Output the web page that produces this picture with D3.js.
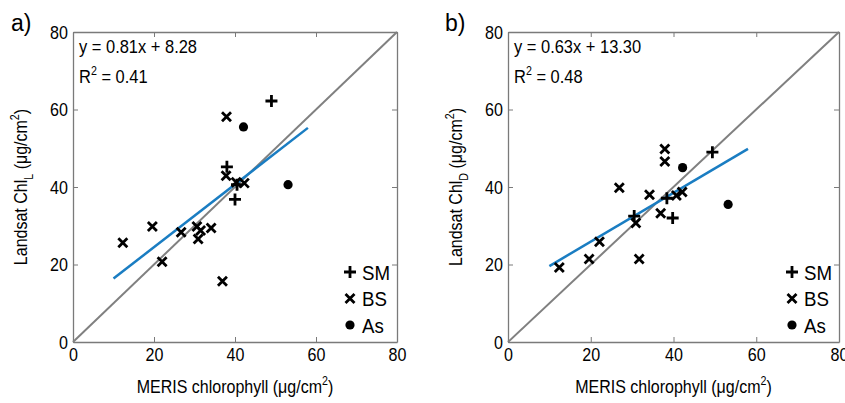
<!DOCTYPE html>
<html><head><meta charset="utf-8">
<script src="https://cdn.jsdelivr.net/npm/d3@7"></script>
<style>
html,body{margin:0;padding:0;background:#fff;}
svg text{font-family:"Liberation Sans",Arial,sans-serif;fill:#000;}
</style></head>
<body><svg id="chart" width="845" height="403"></svg>
<script>
// ---- data ----
const tickValues = [0, 20, 40, 60, 80];
const panelLabels = ["a)", "b)"];
const ySubscripts = ["L", "D"];
const equations = ["y = 0.81x + 8.28", "y = 0.63x + 13.30"];
const r2Values = ["0.41", "0.48"];
const fitSlopes = [0.81, 0.63];
const fitIntercepts = [8.28, 13.30];
const fitRange = [10, 58];
const legendNames = ["SM", "BS", "As"];

const aSMx = [49.0, 38.0, 40.0, 40.5];
const aSMy = [62.2, 45.2, 36.8, 40.6];
const aBSx = [37.9, 37.8, 40.3, 42.3, 12.3, 19.6, 22.0, 26.7, 30.6, 31.5, 30.9, 34.1, 36.9];
const aBSy = [58.1, 42.9, 41.2, 41.0, 25.6, 29.8, 20.7, 28.3, 29.8, 28.8, 26.6, 29.4, 15.7];
const aAsx = [42.1, 53.1];
const aAsy = [55.5, 40.6];

const bSMx = [49.4, 38.4, 39.8, 30.5];
const bSMy = [49.0, 37.1, 32.0, 32.5];
const bBSx = [37.9, 37.9, 26.9, 34.2, 40.7, 42.1, 36.9, 30.9, 22.1, 19.6, 31.7, 12.4];
const bBSy = [49.8, 46.6, 39.8, 38.0, 37.8, 38.7, 33.2, 30.7, 25.9, 21.4, 21.4, 19.2];
const bAsx = [42.2, 53.2];
const bAsy = [45.0, 35.5];

const panels = [
  {SMx: aSMx, SMy: aSMy, BSx: aBSx, BSy: aBSy, Asx: aAsx, Asy: aAsy},
  {SMx: bSMx, SMy: bSMy, BSx: bBSx, BSy: bBSy, Asx: bAsx, Asy: bAsy}
];

// ---- layout ----
const layout = [
  {left: 73, right: 397, top: 32, bottom: 342, labelX: 11, ylabX: 27},
  {left: 508, right: 839, top: 32, bottom: 342, labelX: 445, ylabX: 462}
];

const svg = d3.select("#chart");
const axisColor = "#7a7a7a";
const SX = 0.89; // horizontal condensing of text (narrow Helvetica look)

function plusPath(x, y, s) { return `M${x - s},${y}H${x + s}M${x},${y - s}V${y + s}`; }
function crossPath(x, y, s) { return `M${x - s},${y - s}L${x + s},${y + s}M${x - s},${y + s}L${x + s},${y - s}`; }
function condText(parent, x, y, size, extra) {
  return parent.append("g").attr("transform", `translate(${x},${y})${extra || ""} scale(${SX},1)`)
    .append("text").attr("font-size", size);
}

panels.forEach((p, i) => {
  const L = layout[i];
  const x = d3.scaleLinear().domain([0, 80]).range([L.left, L.right]);
  const y = d3.scaleLinear().domain([0, 80]).range([L.bottom, L.top]);
  const g = svg.append("g");

  const styleAxis = sel => {
    sel.select(".domain").attr("stroke", axisColor).attr("stroke-width", 1.3);
    sel.selectAll(".tick line").attr("stroke", axisColor).attr("stroke-width", 1);
    sel.selectAll(".tick text").attr("font-size", 17.5).attr("font-family", "Liberation Sans, Arial, sans-serif")
      .attr("fill", "#000").attr("transform", `scale(0.92,1)`);
  };
  g.append("g").attr("transform", `translate(0,${L.bottom})`)
    .call(d3.axisBottom(x).tickValues(tickValues).tickSizeInner(-5).tickSizeOuter(0).tickPadding(7))
    .call(styleAxis);
  g.append("g").attr("transform", `translate(${L.left},0)`)
    .call(d3.axisLeft(y).tickValues(tickValues).tickSizeInner(-5).tickSizeOuter(0).tickPadding(5))
    .call(styleAxis)
    .selectAll(".tick text").attr("dy", "0.36em").attr("x", -5 / 0.92);
  g.append("g").attr("transform", `translate(0,${L.top})`)
    .call(d3.axisTop(x).tickValues(tickValues).tickSizeInner(-5).tickSizeOuter(0).tickFormat(""))
    .call(styleAxis);
  g.append("g").attr("transform", `translate(${L.right},0)`)
    .call(d3.axisRight(y).tickValues(tickValues).tickSizeInner(-5).tickSizeOuter(0).tickFormat(""))
    .call(styleAxis);

  // 1:1 line
  g.append("line")
    .attr("x1", x(0)).attr("y1", y(0)).attr("x2", x(80)).attr("y2", y(80))
    .attr("stroke", "#808080").attr("stroke-width", 2);

  // fit line
  g.append("line")
    .attr("x1", x(fitRange[0])).attr("y1", y(fitSlopes[i] * fitRange[0] + fitIntercepts[i]))
    .attr("x2", x(fitRange[1])).attr("y2", y(fitSlopes[i] * fitRange[1] + fitIntercepts[i]))
    .attr("stroke", "#1a7dc2").attr("stroke-width", 2.5);

  // markers
  const sm = p.SMx.map((v, k) => [v, p.SMy[k]]);
  const bs = p.BSx.map((v, k) => [v, p.BSy[k]]);
  const as = p.Asx.map((v, k) => [v, p.Asy[k]]);
  g.selectAll(".bs").data(bs).join("path").attr("class", "bs")
    .attr("d", d => crossPath(x(d[0]), y(d[1]), 4.5)).attr("stroke", "#000").attr("stroke-width", 2.8).attr("fill", "none");
  g.selectAll(".sm").data(sm).join("path").attr("class", "sm")
    .attr("d", d => plusPath(x(d[0]), y(d[1]), 6)).attr("stroke", "#000").attr("stroke-width", 2.8).attr("fill", "none");
  g.selectAll(".as").data(as).join("circle").attr("class", "as")
    .attr("cx", d => x(d[0])).attr("cy", d => y(d[1])).attr("r", 4.6).attr("fill", "#000");

  // equation and R2
  condText(g, L.left + 6, 53, 18.5).text(equations[i]);
  const r = condText(g, L.left + 6, 83, 18.5);
  r.append("tspan").text("R");
  r.append("tspan").attr("font-size", 12).attr("dy", -8).text("2");
  r.append("tspan").attr("dy", 8).text(" = " + r2Values[i]);

  // legend
  const lx = L.right - 47, ly0 = 272, dy = 26.5;
  legendNames.forEach((name, k) => {
    const yy = ly0 + k * dy;
    if (k === 0) g.append("path").attr("d", plusPath(lx, yy, 6)).attr("stroke", "#000").attr("stroke-width", 2.8);
    if (k === 1) g.append("path").attr("d", crossPath(lx, yy, 4.5)).attr("stroke", "#000").attr("stroke-width", 2.8);
    if (k === 2) g.append("circle").attr("cx", lx).attr("cy", yy).attr("r", 4.6).attr("fill", "#000");
    condText(g, lx + 12, yy + 7.5, 21).text(name);
  });

  // panel label
  g.append("text").attr("x", L.labelX).attr("y", 31).attr("font-size", 23).text(panelLabels[i]);

  // x label
  const xl = condText(g, (L.left + L.right) / 2, 393, 18).attr("text-anchor", "middle");
  xl.append("tspan").text("MERIS chlorophyll (\u03bcg/cm");
  xl.append("tspan").attr("font-size", 12).attr("dy", -8).text("2");
  xl.append("tspan").attr("dy", 8).text(")");

  // y label
  const yl = condText(g, L.ylabX, (L.top + L.bottom) / 2, 18, " rotate(-90)").attr("text-anchor", "middle");
  yl.append("tspan").text("Landsat Chl");
  yl.append("tspan").attr("font-size", 12).attr("dy", 6).text(ySubscripts[i]);
  yl.append("tspan").attr("dy", -6).text("  (\u03bcg/cm");
  yl.append("tspan").attr("font-size", 12).attr("dy", -8).text("2");
  yl.append("tspan").attr("dy", 8).text(")");
});
</script>
</body></html>
